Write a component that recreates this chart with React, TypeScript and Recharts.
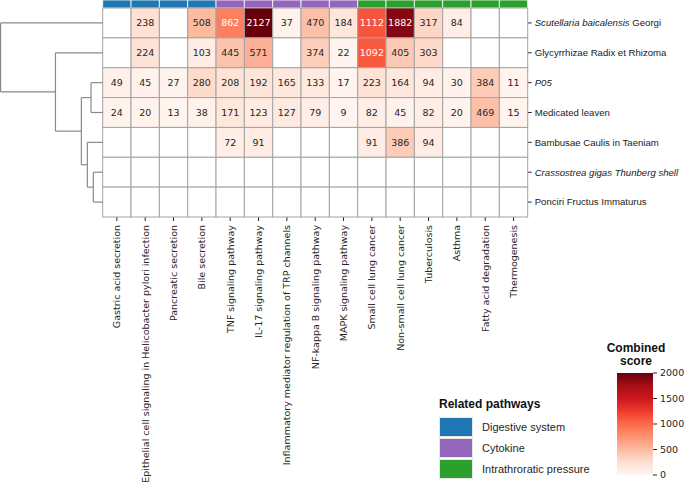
import {
  ScatterChart,
  Scatter,
  XAxis,
  YAxis,
  ReferenceArea,
  ReferenceLine,
  ComposedChart,
} from "recharts";

// pathways (columns) and their group
const pathways = [
  "Gastric acid secretion",
  "Epithelial cell signaling in Helicobacter pylori infection",
  "Pancreatic secretion",
  "Bile secretion",
  "TNF signaling pathway",
  "IL-17 signaling pathway",
  "Inflammatory mediator regulation of TRP channels",
  "NF-kappa B signaling pathway",
  "MAPK signaling pathway",
  "Small cell lung cancer",
  "Non-small cell lung cancer",
  "Tuberculosis",
  "Asthma",
  "Fatty acid degradation",
  "Thermogenesis",
];
const pathwayGroup = [0, 0, 0, 0, 1, 1, 1, 1, 1, 2, 2, 2, 2, 2, 2];
const groupNames = ["Digestive system", "Cytokine", "Intrathroratic pressure"];
const groupColors = ["#1f77b4", "#9467bd", "#2ca02c"];

// herbs (rows), italic prefix of each label
const herbs = [
  "Scutellaria baicalensis Georgi",
  "Glycyrrhizae Radix et Rhizoma",
  "P05",
  "Medicated leaven",
  "Bambusae Caulis in Taeniam",
  "Crassostrea gigas Thunberg shell",
  "Ponciri Fructus Immaturus",
];
const herbItalic = [
  "Scutellaria baicalensis",
  "",
  "P05",
  "",
  "",
  "Crassostrea gigas Thunberg shell",
  "",
];

// combined scores, one array per herb (null = no enrichment)
const scutellaria = [null, 238, null, 508, 862, 2127, 37, 470, 184, 1112, 1882, 317, 84, null, null];
const glycyrrhizae = [null, 224, null, 103, 445, 571, null, 374, 22, 1092, 405, 303, null, null, null];
const p05 = [49, 45, 27, 280, 208, 192, 165, 133, 17, 223, 164, 94, 30, 384, 11];
const medicatedLeaven = [24, 20, 13, 38, 171, 123, 127, 79, 9, 82, 45, 82, 20, 469, 15];
const bambusae = [null, null, null, null, 72, 91, null, null, null, 91, 386, 94, null, null, null];
const crassostrea = [null, null, null, null, null, null, null, null, null, null, null, null, null, null, null];
const ponciri = [null, null, null, null, null, null, null, null, null, null, null, null, null, null, null];
const scores = [scutellaria, glycyrrhizae, p05, medicatedLeaven, bambusae, crassostrea, ponciri];

// row dendrogram: [left, right, height]; leaves 0..6, merges numbered from 7
const linkage: [number, number, number][] = [
  [2, 3, 1.2],
  [5, 6, 0.97],
  [4, 8, 1.57],
  [7, 9, 2.17],
  [1, 10, 4.77],
  [0, 11, 10.27],
];

const colorTicks = [0, 500, 1000, 1500, 2000];
const VMAX = 2000;
const REDS = ["#fff5f0", "#fee0d2", "#fcbba1", "#fc9272", "#fb6a4a", "#ef3b2c", "#cb181d", "#a50f15", "#67000d"];

const PLOT_W = 425;
const PLOT_H = 217;
const BAR = 0.268;
const CELL_W = PLOT_W / pathways.length;
const CELL_H = PLOT_H / (herbs.length + BAR);
const GRID = "#a3a3a3";
const DARK = "#262626";
const DEJAVU = "DejaVu Sans";
const LIB = "Liberation Sans, Arial, sans-serif";

function hex(c: string) {
  return [1, 3, 5].map((i) => parseInt(c.slice(i, i + 2), 16));
}

function redColor(v: number) {
  const t = Math.max(0, Math.min(1, v / VMAX)) * (REDS.length - 1);
  const i = Math.min(Math.floor(t), REDS.length - 2);
  const f = t - i;
  const a = hex(REDS[i]);
  const b = hex(REDS[i + 1]);
  const m = a.map((x, k) => Math.round(x + (b[k] - x) * f));
  return `rgb(${m[0]},${m[1]},${m[2]})`;
}

const cells = scores.flatMap((row, r) =>
  row.map((v, c) => ({ x: c + 0.5, y: r + 0.5, v }))
);

const CellShape = (props: any) => {
  const { cx, cy, payload } = props;
  const v = payload.v as number | null;
  return (
    <g>
      <rect
        x={cx - CELL_W / 2}
        y={cy - CELL_H / 2}
        width={CELL_W}
        height={CELL_H}
        fill={v == null ? "#ffffff" : redColor(v)}
        stroke={GRID}
        strokeWidth={1}
      />
      {v != null && (
        <text
          x={cx}
          y={cy}
          dy="0.35em"
          textAnchor="middle"
          fontFamily={DEJAVU}
          fontSize={9.5}
          fill={v / VMAX > 0.38 ? "#ffffff" : DARK}
        >
          {v}
        </text>
      )}
    </g>
  );
};

const ColumnTick = (props: any) => {
  const { x, y, payload } = props;
  const label = pathways[Math.floor(payload.value)];
  return (
    <text
      transform={`translate(${x},${y}) rotate(-90)`}
      dy="0.35em"
      textAnchor="end"
      fontFamily={DEJAVU}
      fontSize={9.5}
      fill={DARK}
    >
      {label}
    </text>
  );
};

const RowTick = (props: any) => {
  const { x, y, payload } = props;
  const r = Math.floor(payload.value);
  const label = herbs[r];
  const it = herbItalic[r];
  return (
    <text x={x} y={y} dy="0.35em" textAnchor="start" fontFamily={LIB} fontSize={9.6} fill="#1a1a1a">
      {it && <tspan fontStyle="italic">{it}</tspan>}
      {label.slice(it.length) && <tspan>{label.slice(it.length)}</tspan>}
    </text>
  );
};

function dendroSegments() {
  const ys: number[] = herbs.map((_, i) => i + 0.5);
  const hs: number[] = herbs.map(() => 0);
  const segs: { x1: number; y1: number; x2: number; y2: number }[] = [];
  linkage.forEach(([a, b, h]) => {
    segs.push({ x1: hs[a], y1: ys[a], x2: h, y2: ys[a] });
    segs.push({ x1: hs[b], y1: ys[b], x2: h, y2: ys[b] });
    segs.push({ x1: h, y1: ys[a], x2: h, y2: ys[b] });
    ys.push((ys[a] + ys[b]) / 2);
    hs.push(h);
  });
  return segs;
}

export default function App() {
  const segs = dendroSegments();
  const rootH = linkage[linkage.length - 1][2];
  return (
    <div style={{ position: "absolute", left: 0, top: 0, width: 685, height: 492, background: "#fff" }}>
      {/* heatmap */}
      <div style={{ position: "absolute", left: 0, top: 0 }}>
        <ScatterChart width={685} height={492} margin={{ top: 0, left: 102.7, right: 7.3, bottom: 15 }}>
          <XAxis
            type="number"
            dataKey="x"
            domain={[0, pathways.length]}
            ticks={pathways.map((_, i) => i + 0.5)}
            interval={0}
            height={260}
            axisLine={false}
            tickSize={4}
            tickMargin={4}
            tickLine={{ stroke: DARK }}
            tick={<ColumnTick />}
          />
          <YAxis
            type="number"
            dataKey="y"
            orientation="right"
            reversed
            domain={[-BAR, herbs.length]}
            ticks={herbs.map((_, i) => i + 0.5)}
            interval={0}
            width={150}
            axisLine={false}
            tickSize={4}
            tickMargin={3}
            tickLine={{ stroke: DARK }}
            tick={<RowTick />}
          />
          {pathwayGroup.map((g, c) => (
            <ReferenceArea
              key={`bar-${c}`}
              x1={c}
              x2={c + 1}
              y1={-BAR}
              y2={0}
              fill={groupColors[g]}
              fillOpacity={1}
              stroke="#ffffff"
              strokeWidth={0.8}
            />
          ))}
          <Scatter data={cells} shape={<CellShape />} isAnimationActive={false} />
        </ScatterChart>
      </div>

      {/* row dendrogram */}
      <div style={{ position: "absolute", left: 0, top: 0 }}>
        <ComposedChart width={103} height={217} margin={{ top: 0, left: 0.6, right: 0, bottom: 0 }}>
          <XAxis type="number" dataKey="h" domain={[0, rootH]} reversed hide />
          <YAxis type="number" dataKey="y" domain={[-BAR, herbs.length]} reversed hide />
          <Scatter
            data={herbs.map((_, i) => ({ h: 0, y: i + 0.5 }))}
            shape={() => <g />}
            isAnimationActive={false}
          />
          {segs.map((s, i) => (
            <ReferenceLine
              key={`d-${i}`}
              segment={[
                { x: s.x1, y: s.y1 },
                { x: s.x2, y: s.y2 },
              ]}
              stroke="#8a8a8a"
              strokeWidth={1.2}
              ifOverflow="visible"
            />
          ))}
        </ComposedChart>
      </div>

      {/* colour bar */}
      <div style={{ position: "absolute", left: 617, top: 360 }}>
        <ComposedChart width={68} height={130} margin={{ top: 13, right: 0, bottom: 15, left: 0 }}>
          <defs>
            <linearGradient id="redsGrad" x1="0" y1="1" x2="0" y2="0">
              {REDS.map((c, i) => (
                <stop key={c} offset={`${(i / (REDS.length - 1)) * 100}%`} stopColor={c} />
              ))}
            </linearGradient>
          </defs>
          <XAxis type="number" dataKey="x" domain={[0, 1]} hide />
          <YAxis
            type="number"
            dataKey="y"
            orientation="right"
            domain={[0, VMAX]}
            ticks={colorTicks}
            interval={0}
            width={32}
            axisLine={false}
            tickSize={4}
            tickMargin={3}
            tickLine={{ stroke: DARK }}
            tick={{ fontFamily: DEJAVU, fontSize: 9.5, fill: DARK, textAnchor: "start" }}
          />
          <Scatter
            data={colorTicks.map((v) => ({ x: 0.5, y: v }))}
            shape={() => <g />}
            isAnimationActive={false}
          />
          <ReferenceArea x1={0} x2={1} y1={0} y2={VMAX} fill="url(#redsGrad)" fillOpacity={1} />
        </ComposedChart>
      </div>
      <div
        style={{
          position: "absolute",
          left: 596,
          top: 342,
          width: 80,
          textAlign: "center",
          fontFamily: LIB,
          fontWeight: "bold",
          fontSize: 12,
          lineHeight: "13px",
          color: "#111",
        }}
      >
        Combined
        <br />
        score
      </div>

      {/* related pathways legend */}
      <div style={{ position: "absolute", left: 439, top: 398, fontFamily: LIB, color: DARK }}>
        <div style={{ fontWeight: "bold", fontSize: 12, lineHeight: "13px", color: "#111", marginBottom: 5 }}>
          Related pathways
        </div>
        {groupNames.map((g, i) => (
          <div key={g} style={{ display: "flex", alignItems: "center", height: 21 }}>
            <div
              style={{
                width: 34,
                height: 20,
                boxSizing: "border-box",
                background: groupColors[i],
                border: "1px solid #e6e6e6",
              }}
            />
            <span style={{ marginLeft: 9, fontSize: 11 }}>{g}</span>
          </div>
        ))}
      </div>
    </div>
  );
}
